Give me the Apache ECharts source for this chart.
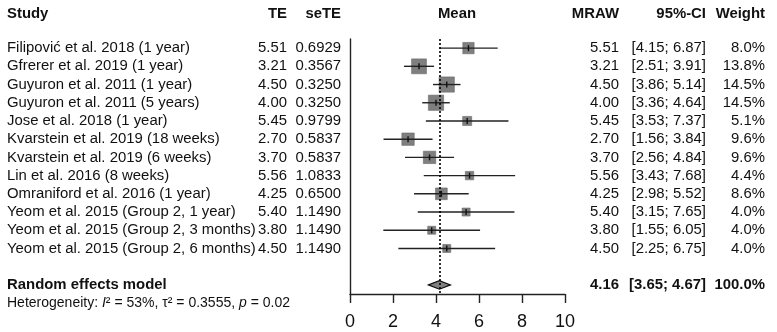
<!DOCTYPE html>
<html>
<head>
<meta charset="utf-8">
<script src="https://cdn.jsdelivr.net/npm/echarts@6/dist/echarts.min.js"></script>
<style>
  html, body { margin: 0; padding: 0; background: #fff; }
  #chart { width: 777px; height: 332px; }
</style>
</head>
<body>
<div id="chart"></div>
<script>
const studies = [
  'Filipović et al. 2018 (1 year)',
  'Gfrerer et al. 2019 (1 year)',
  'Guyuron et al. 2011 (1 year)',
  'Guyuron et al. 2011 (5 years)',
  'Jose et al. 2018 (1 year)',
  'Kvarstein et al. 2019 (18 weeks)',
  'Kvarstein et al. 2019 (6 weeks)',
  'Lin et al. 2016 (8 weeks)',
  'Omraniford et al. 2016 (1 year)',
  'Yeom et al. 2015 (Group 2, 1 year)',
  'Yeom et al. 2015 (Group 2, 3 months)',
  'Yeom et al. 2015 (Group 2, 6 months)'
];
const te = [5.51, 3.21, 4.50, 4.00, 5.45, 2.70, 3.70, 5.56, 4.25, 5.40, 3.80, 4.50];
const seTE = [0.6929, 0.3567, 0.3250, 0.3250, 0.9799, 0.5837, 0.5837, 1.0833, 0.6500, 1.1490, 1.1490, 1.1490];
const ciLower = [4.15, 2.51, 3.86, 3.36, 3.53, 1.56, 2.56, 3.43, 2.98, 3.15, 1.55, 2.25];
const ciUpper = [6.87, 3.91, 5.14, 4.64, 7.37, 3.84, 4.84, 7.68, 5.52, 7.65, 6.05, 6.75];
const weights = [8.0, 13.8, 14.5, 14.5, 5.1, 9.6, 9.6, 4.4, 8.6, 4.0, 4.0, 4.0];
// random effects model: mean, lower, upper
const pooled = [4.16, 3.65, 4.67];
const headers = ['Study', 'TE', 'seTE', 'Mean', 'MRAW', '95%-CI', 'Weight'];
const xTicks = [0, 2, 4, 6, 8, 10];

const FONT = '"Liberation Sans", Arial, sans-serif';
const POOLED_ROW = studies.length + 1;

// text columns: pixel x and alignment
const cols = [
  { x: 7, align: 'left' },
  { x: 287, align: 'right' },
  { x: 341, align: 'right' },
  { x: 457, align: 'center' },
  { x: 619, align: 'right' },
  { x: 706, align: 'right' },
  { x: 765, align: 'right' }
];

const ci = (lo, hi) => '[' + lo.toFixed(2) + '; ' + hi.toFixed(2) + ']';

const tableRows = [{ row: -1.9, bold: true, cells: headers }];
studies.forEach((s, i) => {
  tableRows.push({
    row: i,
    cells: [s, te[i].toFixed(2), seTE[i].toFixed(4), '', te[i].toFixed(2),
      ci(ciLower[i], ciUpper[i]), weights[i].toFixed(1) + '%']
  });
});
tableRows.push({
  row: POOLED_ROW, bold: true,
  cells: ['Random effects model', '', '', '', pooled[0].toFixed(2),
    ci(pooled[1], pooled[2]), '100.0%']
});
tableRows.push({ row: POOLED_ROW + 1, hetero: true, cells: [] });

const forestData = studies.map((s, i) => [te[i], i, ciLower[i], ciUpper[i], weights[i]]);

const chart = echarts.init(document.getElementById('chart'));
chart.setOption({
  animation: false,
  grid: { left: 350, right: 212, top: 39, bottom: 38 },
  xAxis: {
    type: 'value',
    min: xTicks[0],
    max: xTicks[xTicks.length - 1],
    interval: 2,
    splitLine: { show: false },
    axisLine: { onZero: false, lineStyle: { color: '#222', width: 1.4 } },
    axisTick: { length: 9, lineStyle: { color: '#222', width: 1.4 } },
    axisLabel: { color: '#111', fontSize: 18, fontFamily: FONT, margin: 19 }
  },
  yAxis: {
    type: 'value',
    inverse: true,
    min: -0.5,
    max: 13.5,
    splitLine: { show: false },
    axisTick: { show: false },
    axisLabel: { show: false },
    axisLine: { show: true, onZero: false, lineStyle: { color: '#222', width: 1.4 } }
  },
  series: [
    {
      type: 'custom',
      clip: false,
      encode: { x: 0, y: 1 },
      data: forestData,
      renderItem(params, api) {
        const row = api.value(1);
        const c = api.coord([api.value(0), row]);
        const l = api.coord([api.value(2), row]);
        const h = api.coord([api.value(3), row]);
        const s = 4 * Math.sqrt(api.value(4));
        return {
          type: 'group',
          children: [
            { type: 'rect', shape: { x: c[0] - s / 2, y: c[1] - s / 2, width: s, height: s },
              style: { fill: '#7f7f7f', stroke: '#6a6a6a', lineWidth: 0.6 } },
            { type: 'line', shape: { x1: l[0], y1: l[1], x2: h[0], y2: h[1] },
              style: { stroke: '#222', lineWidth: 1.4 } },
            { type: 'line', shape: { x1: c[0], y1: c[1] - 3, x2: c[0], y2: c[1] + 3 },
              style: { stroke: '#111', lineWidth: 1.4 } }
          ]
        };
      },
      markLine: {
        silent: true,
        symbol: 'none',
        label: { show: false },
        lineStyle: { color: '#000', width: 1.6, type: [2, 2] },
        data: [{ xAxis: pooled[0] }]
      }
    },
    {
      type: 'custom',
      clip: false,
      encode: { x: 0, y: 1 },
      data: [[pooled[0], POOLED_ROW, pooled[1], pooled[2]]],
      renderItem(params, api) {
        const row = api.value(1);
        const c = api.coord([api.value(0), row]);
        const l = api.coord([api.value(2), row]);
        const h = api.coord([api.value(3), row]);
        const hh = 4.3;
        return {
          type: 'polygon',
          shape: { points: [[l[0], l[1]], [c[0], c[1] - hh], [h[0], h[1]], [c[0], c[1] + hh]] },
          style: { fill: '#808080', stroke: '#111', lineWidth: 1.2 }
        };
      }
    },
    {
      type: 'custom',
      clip: false,
      encode: { x: 0, y: 1 },
      data: tableRows.map(r => [0, r.row]),
      renderItem(params, api) {
        const r = tableRows[params.dataIndex];
        const y = api.coord([0, api.value(1)])[1];
        if (r.hetero) {
          return {
            type: 'text',
            x: 7, y: y,
            style: {
              text: 'Heterogeneity: {i|I}² = 53%, τ² = 0.3555, {i|p} = 0.02',
              fontSize: 14, fontFamily: FONT, fill: '#111',
              align: 'left', verticalAlign: 'middle',
              rich: { i: { fontStyle: 'italic', fontSize: 14, fontFamily: FONT, fill: '#111' } }
            }
          };
        }
        const children = [];
        r.cells.forEach((t, k) => {
          if (!t) return;
          children.push({
            type: 'text',
            x: cols[k].x, y: y,
            style: {
              text: t, fontSize: 14.9, fontFamily: FONT,
              fontWeight: r.bold ? 'bold' : 'normal', fill: '#111',
              align: cols[k].align, verticalAlign: 'middle'
            }
          });
        });
        return { type: 'group', children: children };
      }
    }
  ]
});
</script>
</body>
</html>
